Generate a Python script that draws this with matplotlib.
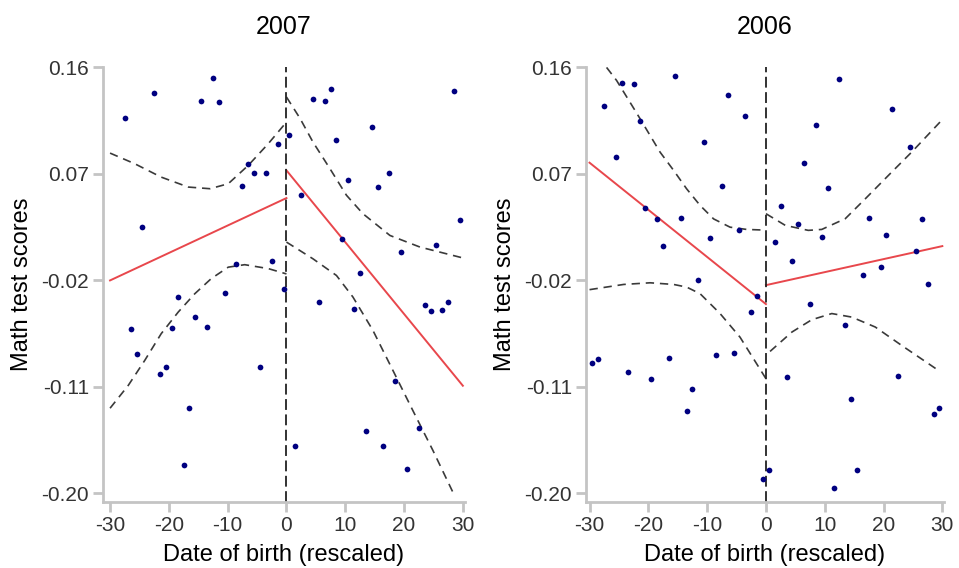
import matplotlib
matplotlib.use("Agg")
import matplotlib.pyplot as plt

plt.rcParams['font.family'] = ['Liberation Sans', 'DejaVu Sans']

# ---- 2007 panel ----
x07 = [-27.5, -22.5, -12.5, -14.5, -11.5, -1.5, -6.5, -5.5, -3.5, -7.5, -24.5, -8.5, -2.5,
	-0.5, -18.5, -10.5, -26.5, -15.5, -19.5, -13.5, -25.5, -20.5, -21.5, -4.5, -16.5, -17.5,
	0.5, 7.5, 4.5, 6.5, 28.5, 14.5, 8.5, 17.5, 10.5, 15.5, 2.5, 29.5, 9.5, 25.5, 19.5, 12.5,
	5.5, 11.5, 23.5, 24.5, 26.5, 27.5, 18.5, 13.5, 22.5, 1.5, 16.5, 20.5]
y07 = [0.117, 0.138, 0.151, 0.132, 0.131, 0.095, 0.078, 0.071, 0.071, 0.060, 0.025, -0.006, -0.004,
	-0.027, -0.034, -0.031, -0.061, -0.051, -0.060, -0.059, -0.082, -0.093, -0.099, -0.093, -0.128, -0.176,
	0.103, 0.142, 0.133, 0.132, 0.140, 0.110, 0.099, 0.071, 0.065, 0.059, 0.052, 0.031, 0.015, 0.010, 0.004, -0.014,
	-0.038, -0.044, -0.041, -0.046, -0.045, -0.038, -0.105, -0.147, -0.145, -0.160, -0.160, -0.179]
fit07_left = ([-30, 0], [-0.020, 0.0496])
fit07_right = ([0, 30], [0.073, -0.109])
ci07_lu = ([-30, -25.8, -21.3, -16.7, -13.0, -9.9, -6.5, -3.1, 0],
	[0.0876, 0.0786, 0.0673, 0.0589, 0.0575, 0.0617, 0.0772, 0.0955, 0.1138])
ci07_ll = ([-30, -26.9, -24.1, -21.3, -18.4, -15.6, -12.8, -9.9, -7.1, -3.1, 0],
	[-0.128, -0.1087, -0.0876, -0.065, -0.0467, -0.0313, -0.0185, -0.0088, -0.0067, -0.010, -0.0145])
ci07_ru = ([0, 2.3, 4.5, 7.4, 10.2, 13.0, 17.6, 22.7, 30],
	[0.135, 0.117, 0.097, 0.0744, 0.052, 0.0364, 0.018, 0.0082, -0.001])
ci07_rl = ([0, 4.5, 8.5, 11.3, 14.7, 18.1, 21.5, 24.9, 28.4],
	[0.0124, -0.0017, -0.0158, -0.034, -0.0622, -0.096, -0.130, -0.1636, -0.200])

# ---- 2006 panel ----
x06 = [-27.5, -24.5, -22.5, -15.5, -6.5, -3.5, -21.5, -10.5, -25.5, -7.5, -20.5, -18.5, -14.5,
	-4.5, -9.5, -17.5, -11.5, -1.5, -2.5, -29.5, -28.5, -23.5, -19.5, -16.5, -8.5, -5.5, -12.5,
	-13.5, -0.5,
	0.5, 12.5, 21.5, 8.5, 6.5, 24.5, 10.5, 2.5, 5.5, 17.5, 26.5, 1.5, 9.5, 20.5, 4.5, 25.5,
	19.5, 16.5, 27.5, 7.5, 13.5, 3.5, 22.5, 14.5, 28.5, 29.5, 15.5, 11.5]
y06 = [0.127, 0.1465, 0.1456, 0.1527, 0.137, 0.119, 0.115, 0.0966, 0.0845, 0.0597, 0.041, 0.0322, 0.0324,
	0.0225, 0.016, 0.0093, -0.020, -0.0335, -0.047, -0.090, -0.0865, -0.097, -0.103, -0.0856, -0.0831, -0.0814, -0.1115,
	-0.130, -0.188,
	-0.180, 0.150, 0.125, 0.111, 0.0795, 0.0924, 0.0578, 0.0428, 0.0276, 0.0324, 0.0318, 0.0121, 0.0169, 0.0183, -0.0037, 0.0048,
	-0.009, -0.0155, -0.023, -0.0397, -0.0574, -0.102, -0.101, -0.120, -0.133, -0.128, -0.180, -0.1955]
fit06_left = ([-30, 0], [0.0795, -0.040])
fit06_right = ([0, 30], [-0.024, 0.009])
ci06_lu = ([-27.1, -25.4, -22.8, -21.4, -18.0, -15.7, -13.5, -11.2, -8.9, -6.1, -3.3, 0],
	[0.160, 0.149, 0.128, 0.1166, 0.0884, 0.073, 0.0575, 0.0434, 0.032, 0.025, 0.0231, 0.0225])
ci06_ll = ([-30, -24.2, -19.7, -15.7, -13.5, -11.2, -7.8, -4.4, 0],
	[-0.0278, -0.0234, -0.022, -0.0234, -0.0256, -0.0312, -0.048, -0.068, -0.103])
ci06_ru = ([0, 3.3, 7.2, 9.5, 13.5, 16.9, 21.4, 24.8, 29.6],
	[0.0364, 0.0265, 0.0223, 0.0231, 0.0322, 0.049, 0.0716, 0.0885, 0.1138])
ci06_rl = ([0.7, 4.4, 7.8, 11.2, 14.6, 18.6, 23.1, 29.5],
	[-0.080, -0.0637, -0.0532, -0.048, -0.051, -0.0594, -0.075, -0.0966])

yticks = [0.16, 0.07, -0.02, -0.11, -0.20]
ytick_labels = ['0.16', '0.07', '-0.02', '-0.11', '-0.20']
xticks = [-30, -20, -10, 0, 10, 20, 30]
xtick_labels = ['-30', '-20', '-10', '0', '10', '20', '30']

W, H = 959, 568
fig = plt.figure(figsize=(W / 100, H / 100), dpi=100)

def panel(rect, xlim, title, xs, ys, fits, cis):
	ax = fig.add_axes(rect)
	for cx, cy in cis:
		ax.plot(cx, cy, color='#3a3a3a', lw=1.2, dashes=(5, 3.5))
	for fx, fy in fits:
		ax.plot(fx, fy, color='#e8474c', lw=1.4)
	ax.axvline(0, color='#222222', lw=1.3, dashes=(6, 2.5))
	ax.scatter(xs, ys, s=17, color='#000080', zorder=3, linewidths=0)
	ax.set_xlim(*xlim)
	ax.set_ylim(-0.207, 0.16)
	for side in ['top', 'right']:
		ax.spines[side].set_visible(False)
	for side in ['left', 'bottom']:
		ax.spines[side].set_color('#c4c4c4')
		ax.spines[side].set_linewidth(2)
	ax.set_yticks(yticks)
	ax.set_yticklabels(ytick_labels)
	ax.set_xticks(xticks)
	ax.set_xticklabels(xtick_labels)
	ax.tick_params(axis='both', colors='#c4c4c4', width=2, length=7, labelsize=15,
		labelcolor='#333333', pad=3)
	ax.set_title(title, fontsize=18, pad=24)
	ax.set_xlabel('Date of birth (rescaled)', fontsize=17, labelpad=7)
	ax.set_ylabel('Math test scores', fontsize=17, labelpad=6)
	return ax

px = 5.88  # pixels per x unit
py = 1183.3  # pixels per y unit
height = 0.367 * py

l_left = 103
l_xlim = (-31.2, 30.3)
panel([l_left / W, (H - 501.7) / H, (l_xlim[1] - l_xlim[0]) * px / W, height / H],
	l_xlim, '2007', x07, y07, [fit07_left, fit07_right], [ci07_lu, ci07_ll, ci07_ru, ci07_rl])

r_left = 586
r_xlim = (-30.6, 30.3)
panel([r_left / W, (H - 501.7) / H, (r_xlim[1] - r_xlim[0]) * px / W, height / H],
	r_xlim, '2006', x06, y06, [fit06_left, fit06_right], [ci06_lu, ci06_ll, ci06_ru, ci06_rl])

fig.savefig('out.png', dpi=100)
